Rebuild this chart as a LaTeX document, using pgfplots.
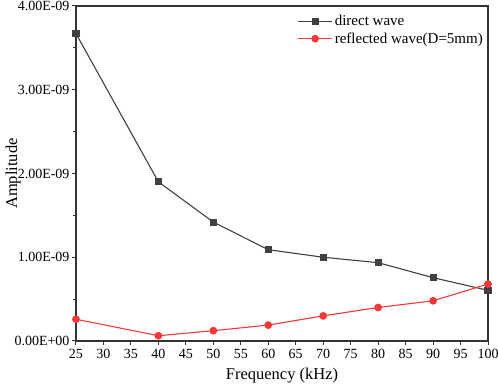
\documentclass[border=0pt]{standalone}
\usepackage{fontspec}
\setmainfont{Liberation Serif}
\usepackage{pgfplots}
\pgfplotsset{compat=1.18}
\definecolor{dgray}{HTML}{404040}
\definecolor{rred}{HTML}{F83838}
\begin{document}
\begin{tikzpicture}
\begin{axis}[
  scale only axis,
  width=412pt, height=335pt,
  xmin=25, xmax=100, ymin=0, ymax=4e-9,
  xtick={25,30,...,100},
  ytick={0,1e-9,2e-9,3e-9,4e-9},
  yticklabels={0.00E+00,1.00E-09,2.00E-09,3.00E-09,4.00E-09},
  minor y tick num=1,
  scaled y ticks=false,
  tick align=outside,
  xtick pos=bottom, ytick pos=left,
  major tick length=4pt, minor tick length=2.5pt,
  axis line style={line width=1.3pt, black!80},
  tick style={line width=1pt, black!80},
  /pgf/number format/assume math mode=true,
  ticklabel style={font=\fontsize{14}{15}\selectfont},
  yticklabel style={xshift=1pt},
  xticklabel style={yshift=-1pt},
  xlabel={Frequency (kHz)},
  ylabel={Amplitude},
  xlabel style={yshift=-2pt},
  ylabel style={yshift=-13pt},
  label style={font=\fontsize{16.5}{18}\selectfont},
  legend style={at={(rel axis cs:1.0,0.985)}, anchor=north east, draw=none, fill=none,
    font=\fontsize{15}{16}\selectfont, row sep=1.5pt},
  legend cell align=left,
  legend image code/.code={\draw[mark repeat=2,mark phase=2] plot coordinates {(0cm,0cm) (0.6cm,0cm) (1.2cm,0cm)};},
]
\coordinate (sw) at (rel axis cs:0,0);
\coordinate (ne) at (rel axis cs:1,1);
\addplot[color=dgray, line width=1.1pt, mark=square*, mark size=3pt] coordinates {
(25,3.67e-9) (40,1.90e-9) (50,1.42e-9) (60,1.09e-9) (70,1.00e-9) (80,0.935e-9) (90,0.756e-9) (100,0.605e-9)};
\addlegendentry{direct wave}
\addplot[color=rred, line width=1.1pt, mark=*, mark size=3.3pt] coordinates {
(25,0.26e-9) (40,0.063e-9) (50,0.123e-9) (60,0.19e-9) (70,0.30e-9) (80,0.40e-9) (90,0.48e-9) (100,0.68e-9)};
\addlegendentry{reflected wave(D=5mm)}
\end{axis}
\path (sw) ++(-76pt,-48pt) coordinate (a);
\path (ne) ++(10pt,6pt) coordinate (b);
\pgfresetboundingbox
\useasboundingbox (a) rectangle (b);
\end{tikzpicture}
\end{document}
